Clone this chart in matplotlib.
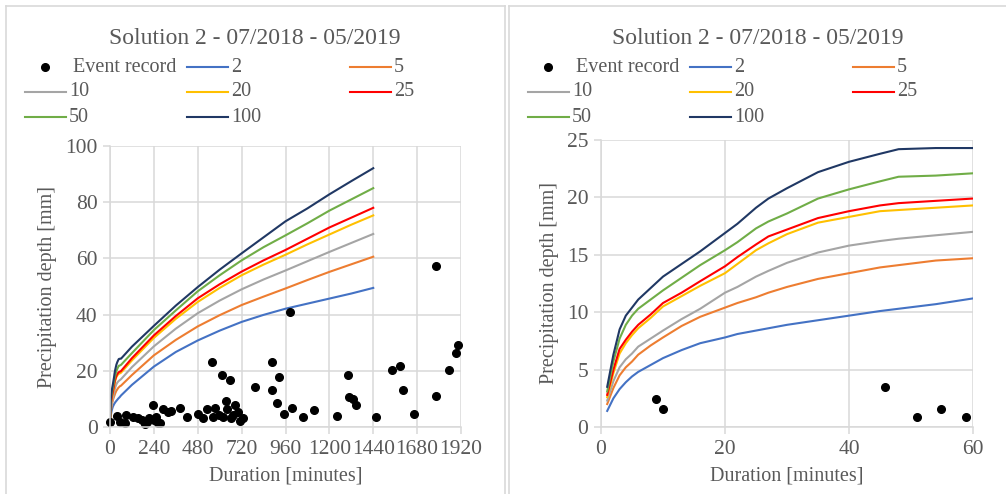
import matplotlib
matplotlib.use("Agg")
import matplotlib.pyplot as plt
from matplotlib.lines import Line2D
import numpy as np

# ---------------- data ----------------
return_periods = ["2", "5", "10", "20", "25", "50", "100"]
colors = ["#4472C4", "#ED7D31", "#A5A5A5", "#FFC000", "#FF0000", "#70AD47", "#203864"]

# short durations (minutes)
dur_short = [1, 2, 3, 4, 5, 6, 8, 10, 13, 16, 20, 22, 25, 27, 30, 35, 40, 45, 48, 54, 60]
depth_short = {
    "2":   [1.4, 2.5, 3.3, 3.9, 4.4, 4.8, 5.4, 6.0, 6.7, 7.3, 7.8, 8.1, 8.4, 8.6, 8.9, 9.3, 9.7, 10.1, 10.3, 10.7, 11.2],
    "5":   [2.0, 3.4, 4.5, 5.2, 5.7, 6.3, 7.1, 7.8, 8.8, 9.6, 10.4, 10.8, 11.3, 11.7, 12.2, 12.9, 13.4, 13.9, 14.1, 14.5, 14.7],
    "10":  [2.3, 4.0, 5.2, 5.9, 6.4, 7.0, 7.7, 8.4, 9.4, 10.3, 11.7, 12.2, 13.1, 13.6, 14.3, 15.2, 15.8, 16.2, 16.4, 16.7, 17.0],
    "20":  [2.6, 4.7, 6.4, 7.3, 8.0, 8.6, 9.5, 10.5, 11.4, 12.3, 13.4, 14.2, 15.4, 16.0, 16.8, 17.8, 18.3, 18.8, 18.9, 19.1, 19.3],
    "25":  [2.8, 5.0, 6.8, 7.6, 8.3, 8.9, 9.8, 10.8, 11.7, 12.7, 14.0, 14.8, 15.9, 16.6, 17.2, 18.2, 18.8, 19.3, 19.5, 19.7, 19.9],
    "50":  [3.1, 5.7, 7.7, 8.9, 9.7, 10.3, 11.1, 11.9, 13.0, 14.1, 15.4, 16.1, 17.3, 17.9, 18.6, 19.9, 20.7, 21.4, 21.8, 21.9, 22.1],
    "100": [3.5, 6.3, 8.5, 9.7, 10.4, 11.1, 12.1, 13.1, 14.2, 15.3, 16.9, 17.7, 19.1, 19.9, 20.8, 22.2, 23.1, 23.8, 24.2, 24.3, 24.3],
}

# long durations (minutes), continuing the curves
dur_long = [120, 240, 360, 480, 600, 720, 840, 960, 1080, 1200, 1320, 1440]
depth_long = {
    "2":   [15.0, 21.5, 26.7, 30.8, 34.3, 37.4, 39.9, 42.1, 43.9, 45.7, 47.5, 49.5],
    "5":   [18.5, 25.5, 31.0, 35.8, 39.8, 43.4, 46.4, 49.3, 52.3, 55.2, 57.9, 60.6],
    "10":  [21.3, 28.7, 35.0, 40.5, 45.0, 49.0, 52.5, 55.7, 59.0, 62.3, 65.5, 68.7],
    "20":  [23.7, 31.7, 38.5, 44.5, 49.5, 54.0, 57.8, 61.3, 65.0, 68.5, 72.0, 75.3],
    "25":  [24.5, 32.6, 39.5, 45.8, 50.8, 55.3, 59.3, 63.0, 67.0, 71.0, 74.5, 78.0],
    "50":  [26.3, 34.5, 41.5, 48.3, 54.0, 59.3, 64.0, 68.2, 72.5, 77.0, 81.0, 85.0],
    "100": [28.6, 36.0, 43.2, 49.8, 56.0, 61.8, 67.5, 73.2, 77.8, 82.8, 87.5, 92.1],
}

# recorded events (left chart: all events)
event_x_all = [0, 36, 55, 82, 88, 128, 155, 173, 192, 205, 215, 237, 240, 250, 262, 275, 292, 319, 332,
               383, 421, 483, 511, 532, 556, 565, 574, 595, 614, 616, 635, 638, 656, 662, 675, 684, 702,
               712, 729, 793, 884, 884, 912, 926, 954, 985, 997, 1058, 1118, 1240, 1300, 1307, 1327,
               1344, 1453, 1544, 1586, 1605, 1663, 1781, 1781, 1854, 1894, 1905]
event_y_all = [1.8, 3.9, 1.9, 1.3, 4.3, 3.4, 3.3, 2.4, 1.2, 1.8, 3.3, 8.0, 2.6, 3.6, 1.3, 1.6, 6.3, 5.2, 5.8,
               6.9, 3.5, 4.6, 3.1, 6.3, 23.2, 3.6, 6.9, 4.2, 18.5, 3.7, 9.3, 6.3, 16.6, 3.1, 4.3, 7.7, 5.2,
               2.0, 3.3, 14.4, 23.1, 13.0, 8.4, 17.7, 4.7, 41.0, 6.8, 3.4, 6.2, 4.0, 18.4, 10.5, 9.8,
               7.8, 3.4, 20.3, 21.6, 13.0, 4.7, 57.3, 11.0, 20.3, 26.3, 29.2]

# recorded events within 60 minutes (right chart)
event_x_short = [8.8, 10.0, 45.8, 51.0, 54.9, 58.8]
event_y_short = [2.45, 1.55, 3.45, 0.9, 1.55, 0.9]

title = "Solution 2 - 07/2018 - 05/2019"
xlabel = "Duration [minutes]"
ylabel = "Precipitation depth [mm]"
left_xticks = [0, 240, 480, 720, 960, 1200, 1440, 1680, 1920]
left_yticks = [0, 20, 40, 60, 80, 100]
right_xticks = [0, 20, 40, 60]
right_yticks = [0, 5, 10, 15, 20, 25]

# ---------------- style ----------------
plt.rcParams["font.family"] = ["Liberation Serif", "DejaVu Serif"]
TXT = "#595959"
GRID = "#D9D9D9"
W, H = 1006, 494
fig = plt.figure(figsize=(W / 100, H / 100), dpi=100)
fig.patch.set_facecolor("white")


def fx(px):
    return px / W


def fy(py):
    return 1 - py / H


def style_axes(ax, xticks, yticks):
    ax.set_xticks(xticks)
    ax.set_yticks(yticks)
    ax.set_xlim(xticks[0], xticks[-1])
    ax.set_ylim(yticks[0], yticks[-1])
    ax.grid(True, color=GRID, linewidth=1.1)
    ax.set_axisbelow(True)
    for s in ["top", "right"]:
        ax.spines[s].set_visible(False)
    for s in ["left", "bottom"]:
        ax.spines[s].set_color(GRID)
        ax.spines[s].set_linewidth(1.1)
    ax.tick_params(axis="both", colors=GRID, labelcolor=TXT, labelsize=15.5,
                   length=5, width=1.1, pad=4)
    ax.set_xlabel(xlabel, color=TXT, fontsize=14.5, labelpad=6)
    ax.set_ylabel(ylabel, color=TXT, fontsize=14.5, labelpad=6)
    ax.patch.set_alpha(0)


# left chart
axL = fig.add_axes([fx(110), fy(427), fx(351), 281 / H])
style_axes(axL, left_xticks, left_yticks)
for rp, c in zip(return_periods, colors):
    axL.plot(dur_short + dur_long, depth_short[rp] + depth_long[rp], color=c, lw=1.5)
axL.plot(event_x_all, event_y_all, "o", color="black", ms=5.5, ls="none", clip_on=False)

# right chart
axR = fig.add_axes([fx(601), fy(427), fx(372), 287 / H])
style_axes(axR, right_xticks, right_yticks)
for rp, c in zip(return_periods, colors):
    axR.plot(dur_short, depth_short[rp], color=c, lw=1.5)
axR.plot(event_x_short, event_y_short, "o", color="black", ms=5.5, ls="none", clip_on=False)

# titles
fig.text(fx(255), fy(38), title, ha="center", va="center", fontsize=17, color=TXT)
fig.text(fx(758), fy(38), title, ha="center", va="center", fontsize=17, color=TXT)

# legends (row-wise, 3 columns)
legend_items = [("Event record", None)] + list(zip(return_periods, colors))
row_y = [67, 92, 117]
for x0 in [0, 503]:
    col_x = [25 + x0, 187 + x0, 350 + x0]
    for i, (lab, c) in enumerate(legend_items):
        r, k = divmod(i, 3)
        xs, ys = col_x[k], row_y[r]
        if c is None:
            fig.add_artist(Line2D([fx(xs + 20)], [fy(ys)], marker="o", color="black",
                                  ms=5.5, ls="none"))
            fig.text(fx(xs + 48), fy(ys), lab, ha="left", va="center", fontsize=14.5, color=TXT)
        else:
            fig.add_artist(Line2D([fx(xs), fx(xs + 41)], [fy(ys), fy(ys)], color=c, lw=1.5))
            fig.text(fx(xs + 44), fy(ys), lab, ha="left", va="center", fontsize=14.5, color=TXT)

# panel frames
frame_kw = dict(color=GRID, lw=1.2)
fig.add_artist(Line2D([fx(6), fx(505)], [fy(6), fy(6)], **frame_kw))
fig.add_artist(Line2D([fx(6), fx(6)], [fy(6), fy(494)], **frame_kw))
fig.add_artist(Line2D([fx(505), fx(505)], [fy(6), fy(494)], **frame_kw))
fig.add_artist(Line2D([fx(509), fx(1006)], [fy(6), fy(6)], **frame_kw))
fig.add_artist(Line2D([fx(509), fx(509)], [fy(6), fy(494)], **frame_kw))

fig.savefig("out.png", dpi=100)
